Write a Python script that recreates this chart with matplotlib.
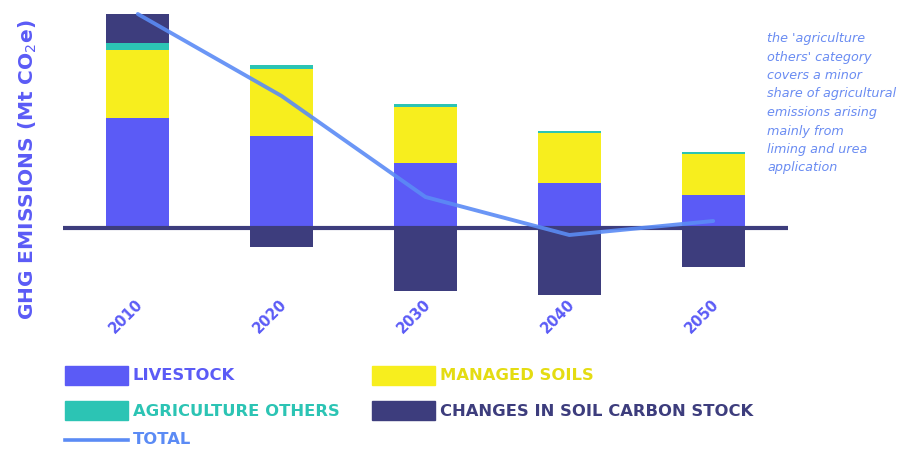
import matplotlib
matplotlib.use("Agg")
import matplotlib.pyplot as plt
from matplotlib.patches import Rectangle
from matplotlib.lines import Line2D
import numpy as np

years = ["2010", "2020", "2030", "2040", "2050"]
livestock = [55, 46, 32.5, 22.5, 16.5]
managed_soils = [34, 33.5, 28, 25, 20.5]
agri_others = [3.5, 2, 1.5, 1, 1]
soil_carbon = [14.5, -9.5, -31.5, -33.5, -19.5]
total = [107, 66, 15.5, -3.5, 3.5]

C_LIVE = "#5B5BF6"
C_SOIL = "#F7EE1E"
C_OTH = "#2CC4B4"
C_CARB = "#3D3D7D"
C_TOT = "#5B8BF5"
C_NOTE = "#6A8CF2"

W, H = 908, 450
fig = plt.figure(figsize=(W / 100, H / 100), dpi=100)

def fx(px):
    return px / W

def fy(py):
    return 1 - py / H

ax = fig.add_axes([fx(63), fy(300), fx(788) - fx(63), (300 - 10) / H])
x = np.arange(len(years))
bw = 0.44
live = np.array(livestock)
ms = np.array(managed_soils)
oth = np.array(agri_others)
sc = np.array(soil_carbon)
ax.bar(x, live, bw, color=C_LIVE, zorder=2)
ax.bar(x, ms, bw, bottom=live, color=C_SOIL, zorder=2)
ax.bar(x, oth, bw, bottom=live + ms, color=C_OTH, zorder=2)
pos_base = live + ms + oth
sc_bottom = np.where(sc > 0, pos_base, 0)
ax.bar(x, sc, bw, bottom=sc_bottom, color=C_CARB, zorder=2)
ax.axhline(0, color=C_CARB, lw=3, zorder=3)
ax.plot(x, total, color=C_TOT, lw=2.8, alpha=0.9, zorder=4, solid_capstyle="round")

ax.set_xlim(-0.52, 4.52)
ax.set_ylim(-36, 109)
ax.axis("off")

for i, yr in enumerate(years):
    ax.text(i - 0.08, -44, yr, rotation=45, ha="center", va="center",
            fontsize=10.5, fontweight="bold", color=C_LIVE, clip_on=False)

fig.text(fx(28), fy(170), "GHG EMISSIONS (Mt CO$_2$e)", rotation=90,
         ha="center", va="center", fontsize=14.5, fontweight="bold", color=C_LIVE)

note = ("the 'agriculture\nothers' category\ncovers a minor\nshare of agricultural\n"
        "emissions arising\nmainly from\nliming and urea\napplication")
fig.text(fx(767), fy(32), note, ha="left", va="top", fontsize=9.2, style="italic",
         color=C_NOTE, linespacing=1.55)

# legend
def patch(px, py, color):
    fig.add_artist(Rectangle((fx(px), fy(py + 19)), fx(63), 19 / H, color=color,
                             transform=fig.transFigure))

leg = [
    (65, 366, C_LIVE, "LIVESTOCK", C_LIVE),
    (372, 366, C_SOIL, "MANAGED SOILS", "#E4DC12"),
    (65, 401, C_OTH, "AGRICULTURE OTHERS", C_OTH),
    (372, 401, C_CARB, "CHANGES IN SOIL CARBON STOCK", C_CARB),
]
for px, py, c, lab, tc in leg:
    patch(px, py, c)
    fig.text(fx(px + 68), fy(py + 10), lab, ha="left", va="center",
             fontsize=11.8, fontweight="bold", color=tc)

fig.add_artist(Line2D([fx(65), fx(128)], [fy(440), fy(440)], color=C_TOT, lw=2.6,
                      transform=fig.transFigure))
fig.text(fx(133), fy(440), "TOTAL", ha="left", va="center", fontsize=11.8,
         fontweight="bold", color=C_TOT)

fig.savefig("out.png", dpi=100, facecolor="white")
